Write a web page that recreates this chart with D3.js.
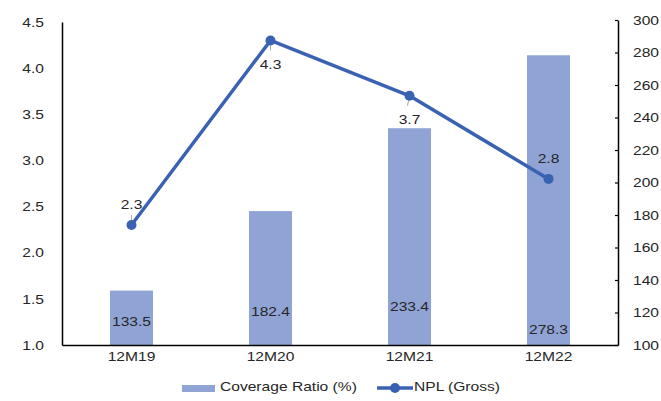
<!DOCTYPE html>
<html>
<head>
<meta charset="utf-8">
<script src="https://cdn.jsdelivr.net/npm/d3@7"></script>
<style>
  html, body { margin: 0; padding: 0; background: #fff; }
  svg text { font-family: "Liberation Sans", Arial, sans-serif; fill: #262626; }
</style>
</head>
<body>
<svg id="chart" width="661" height="401"></svg>
<script>
// Data
const categories = ["12M19", "12M20", "12M21", "12M22"];
const coverageRatio = [133.5, 182.4, 233.4, 278.3];   // bars, right axis (%)
const nplGross = [2.3, 4.3, 3.7, 2.8];                // line, left axis
const leftTicks = [1.0, 1.5, 2.0, 2.5, 3.0, 3.5, 4.0, 4.5];
const rightTicks = [100, 120, 140, 160, 180, 200, 220, 240, 260, 280, 300];

// Layout
const svg = d3.select("#chart");
const plot = { left: 62, right: 618, top: 20, bottom: 345 };
const barColor = "#8FA4D5";
const lineColor = "#3A62B3";
const textWiden = 1.2;   // labels are drawn slightly wide
// vertical offset of each bar label above the axis, and line label placement
const barLabelLift = [22, 32, 37, 14];
const lineLabelSide = ["above", "below", "below", "above"];

// widen text horizontally while keeping its anchor point in place
function widen(sel) {
  sel.each(function () {
    const t = d3.select(this);
    const x0 = +t.attr("x") || 0;
    t.attr("x", x0 / textWiden).attr("transform", `scale(${textWiden},1)`);
  });
}

const x = d3.scaleBand().domain(categories).range([plot.left, plot.right]).paddingInner(0).paddingOuter(0);
const yL = d3.scaleLinear().domain([1.0, 4.5]).range([plot.bottom, plot.top + 2]);
const yR = d3.scaleLinear().domain([100, 300]).range([plot.bottom, plot.top]);
const barW = 43;

// Bars
svg.append("g").selectAll("rect").data(categories).join("rect")
  .attr("x", d => x(d) + x.bandwidth() / 2 - barW / 2)
  .attr("width", barW)
  .attr("y", (d, i) => yR(coverageRatio[i]))
  .attr("height", (d, i) => plot.bottom - yR(coverageRatio[i]))
  .attr("fill", barColor);

// Bar labels
svg.append("g").selectAll("text").data(categories).join("text")
  .attr("x", d => x(d) + x.bandwidth() / 2)
  .attr("y", (d, i) => plot.bottom - barLabelLift[i])
  .attr("text-anchor", "middle")
  .attr("dominant-baseline", "middle")
  .style("font-size", "13px")
  .text((d, i) => coverageRatio[i].toFixed(1))
  .call(widen);

// Left axis
const axL = svg.append("g").attr("transform", `translate(${plot.left},0)`)
  .call(d3.axisLeft(yL).tickValues(leftTicks).tickFormat(d3.format(".1f")).tickSize(0).tickPadding(18));
axL.select(".domain").attr("stroke", "#000").attr("stroke-width", 1.5);
axL.selectAll("text").style("font-size", "13px").style("font-family", "Liberation Sans, Arial, sans-serif").attr("fill", "#262626").call(widen);

// Right axis
const axR = svg.append("g").attr("transform", `translate(${plot.right},0)`)
  .call(d3.axisRight(yR).tickValues(rightTicks).tickSize(-3).tickSizeOuter(0).tickPadding(15));
axR.select(".domain").attr("stroke", "#000").attr("stroke-width", 1.5);
axR.selectAll(".tick line").attr("stroke", "#000").attr("stroke-width", 1.2);
axR.selectAll("text").style("font-size", "13px").style("font-family", "Liberation Sans, Arial, sans-serif").attr("fill", "#262626").call(widen);

// Bottom axis
const axB = svg.append("g").attr("transform", `translate(0,${plot.bottom})`)
  .call(d3.axisBottom(x).tickSize(0).tickPadding(7));
axB.select(".domain").attr("stroke", "#000").attr("stroke-width", 1.5);
axB.selectAll("text").style("font-size", "13px").style("font-family", "Liberation Sans, Arial, sans-serif").attr("fill", "#262626").call(widen);

// Line
const pts = categories.map((c, i) => [x(c) + x.bandwidth() / 2, yL(nplGross[i])]);
svg.append("path")
  .attr("d", d3.line()(pts))
  .attr("fill", "none")
  .attr("stroke", lineColor)
  .attr("stroke-width", 3.5)
  .attr("stroke-linejoin", "round");

// Leader lines and line labels
const labelG = svg.append("g");
pts.forEach((p, i) => {
  const above = lineLabelSide[i] === "above";
  const ly = above ? p[1] - 19 : p[1] + 25;
  if (i !== 3) {
    labelG.append("line")
      .attr("x1", p[0] - (i === 2 ? 2 : 0)).attr("x2", p[0])
      .attr("y1", above ? p[1] - 10 : p[1] + 10).attr("y2", p[1])
      .attr("stroke", "#a6a6a6").attr("stroke-width", 1);
  }
  labelG.append("text")
    .attr("x", p[0])
    .attr("y", ly)
    .attr("text-anchor", "middle")
    .attr("dominant-baseline", "middle")
    .style("font-size", "13px")
    .text(nplGross[i].toFixed(1))
    .call(widen);
});

// Markers
svg.append("g").selectAll("circle").data(pts).join("circle")
  .attr("cx", d => d[0]).attr("cy", d => d[1]).attr("r", 5)
  .attr("fill", lineColor);

// Legend
const lg = svg.append("g").attr("transform", "translate(0,388)");
lg.append("rect").attr("x", 182).attr("y", -3).attr("width", 33).attr("height", 7).attr("fill", barColor);
lg.append("text").attr("x", 220).attr("y", 0).attr("dominant-baseline", "middle").style("font-size", "13px").text("Coverage Ratio (%)").call(widen);
lg.append("line").attr("x1", 377).attr("x2", 413).attr("y1", 0).attr("y2", 0).attr("stroke", lineColor).attr("stroke-width", 3.5);
lg.append("circle").attr("cx", 395).attr("cy", 0).attr("r", 5).attr("fill", lineColor);
lg.append("text").attr("x", 414).attr("y", 0).attr("dominant-baseline", "middle").style("font-size", "13px").text("NPL (Gross)").call(widen);
</script>
</body>
</html>
